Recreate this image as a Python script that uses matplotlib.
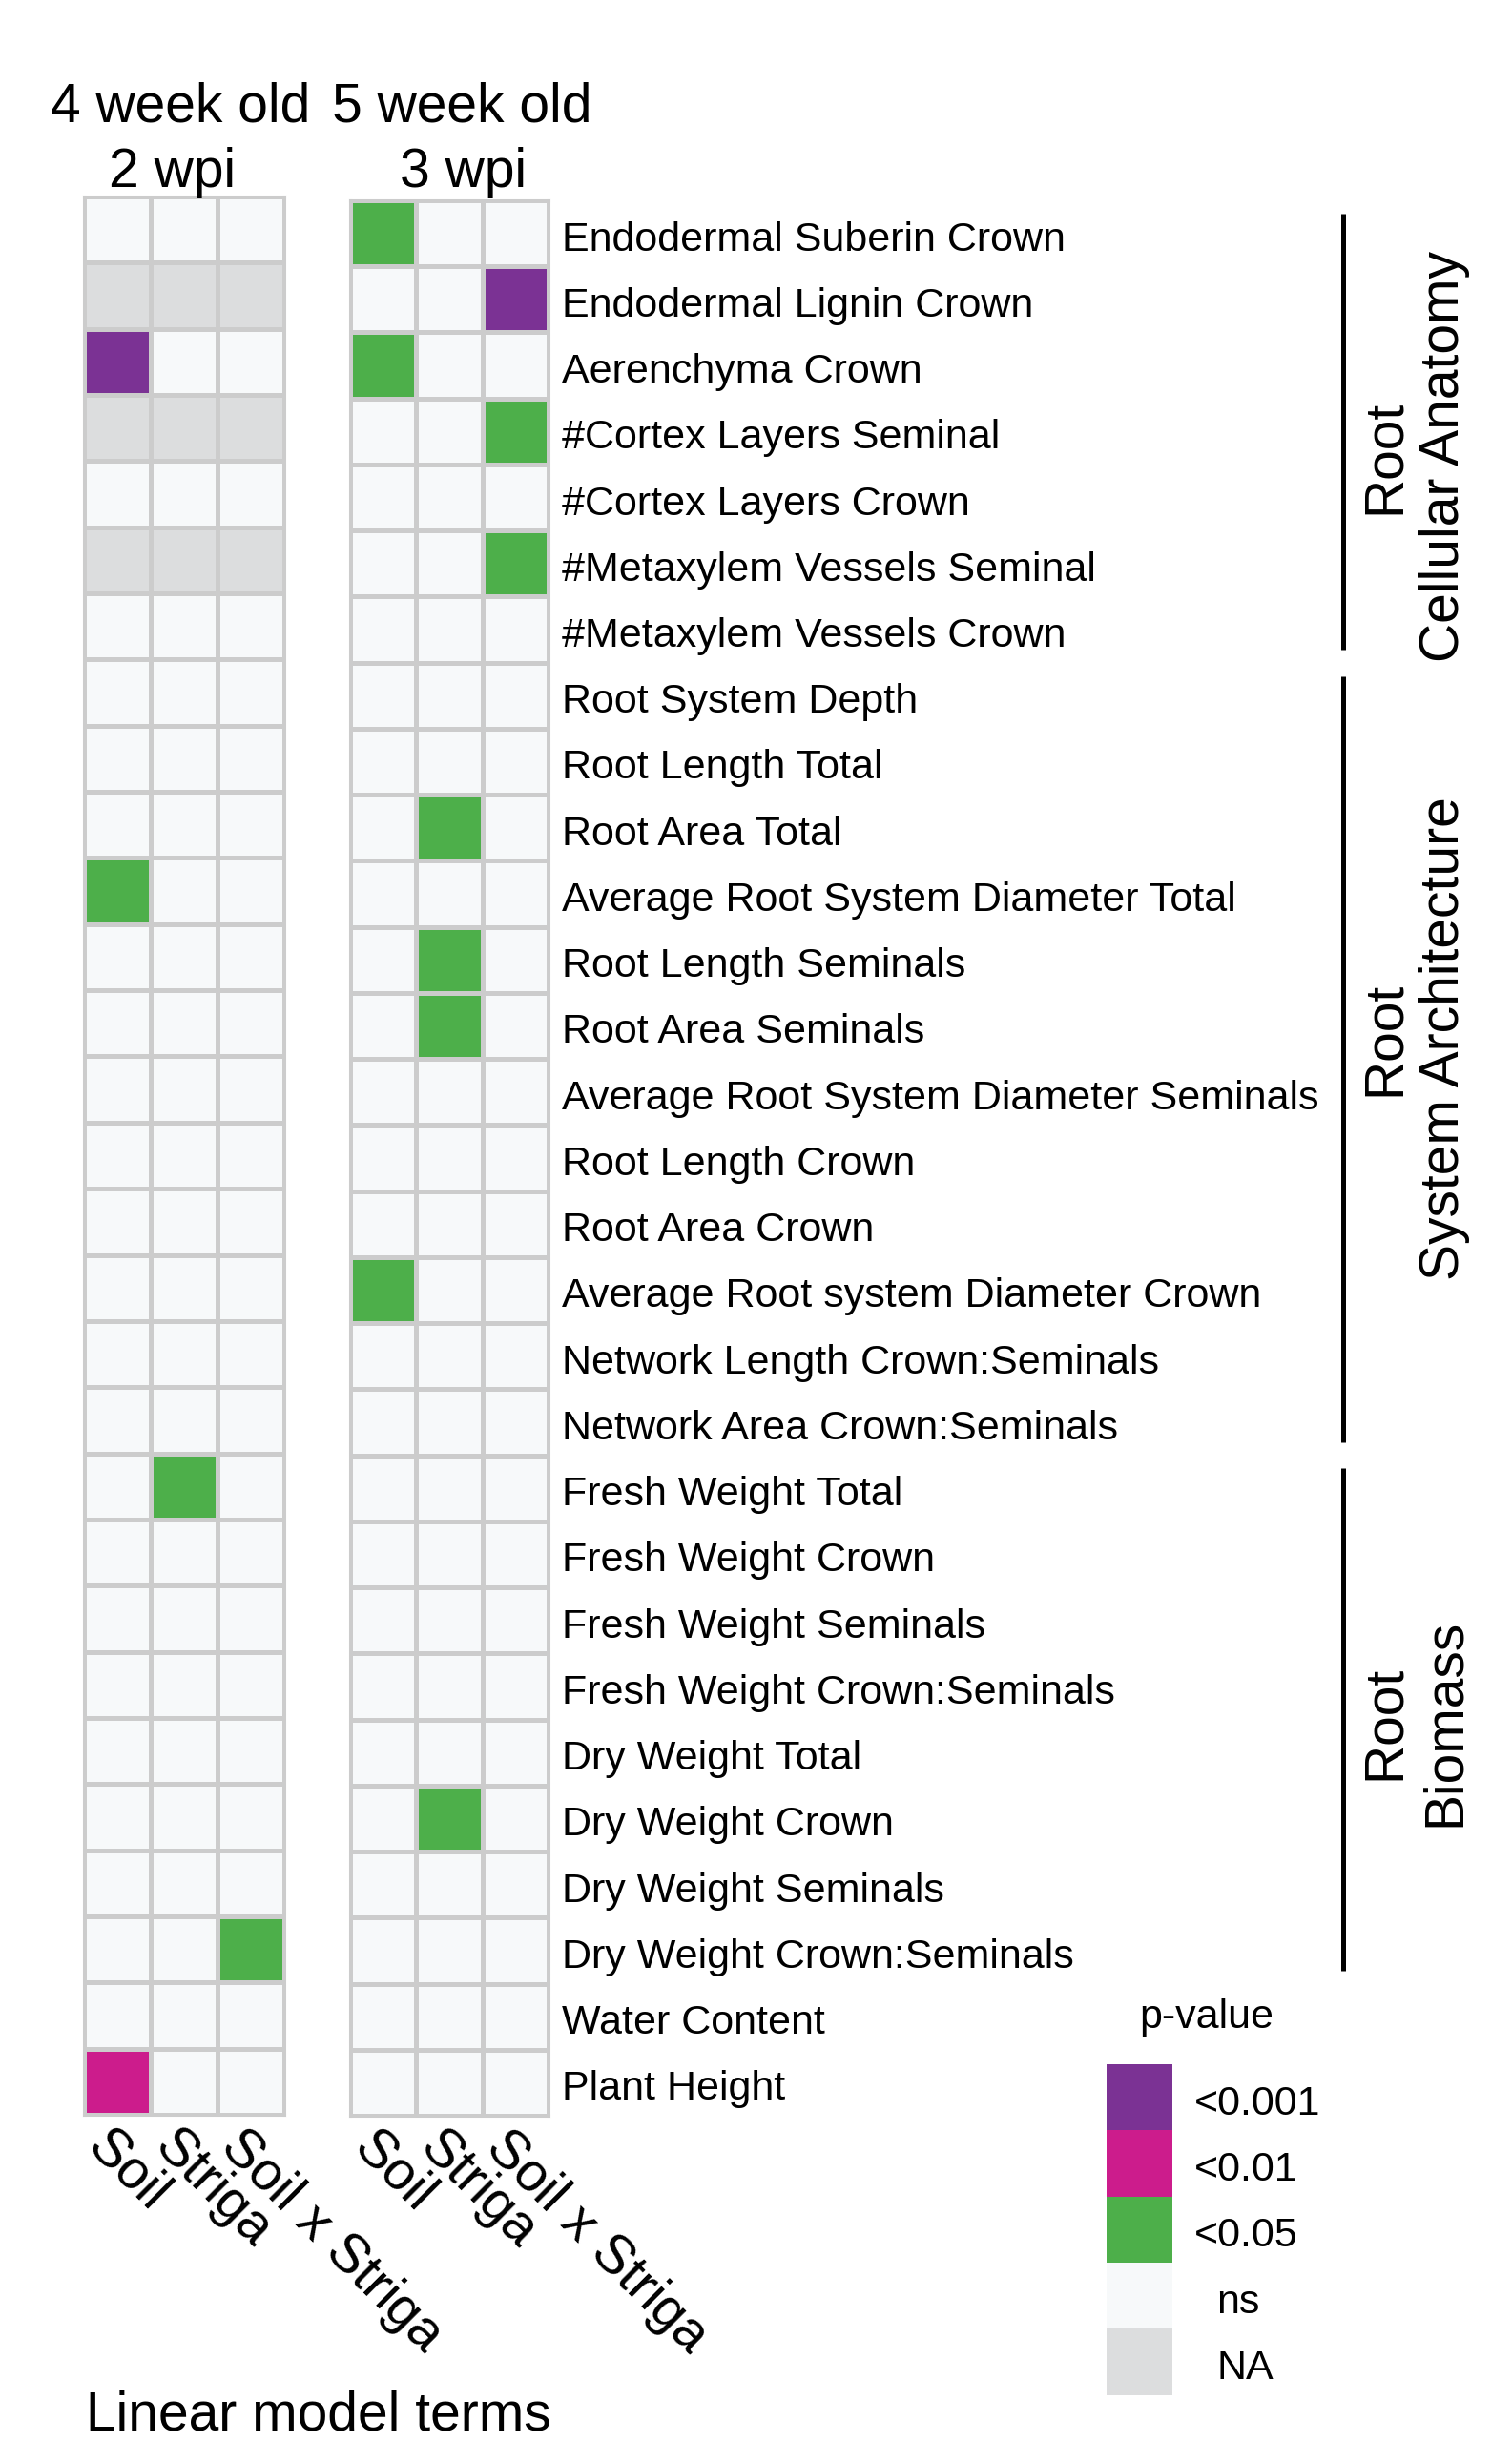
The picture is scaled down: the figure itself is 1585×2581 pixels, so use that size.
import matplotlib.pyplot as plt
import numpy as np
from matplotlib.colors import ListedColormap

plt.rcParams['font.family'] = ['Liberation Sans', 'DejaVu Sans']

traits = [
    'Endodermal Suberin Crown', 'Endodermal Lignin Crown', 'Aerenchyma Crown',
    '#Cortex Layers Seminal', '#Cortex Layers Crown', '#Metaxylem Vessels Seminal',
    '#Metaxylem Vessels Crown', 'Root System Depth', 'Root Length Total',
    'Root Area Total', 'Average Root System Diameter Total', 'Root Length Seminals',
    'Root Area Seminals', 'Average Root System Diameter Seminals', 'Root Length Crown',
    'Root Area Crown', 'Average Root system Diameter Crown', 'Network Length Crown:Seminals',
    'Network Area Crown:Seminals', 'Fresh Weight Total', 'Fresh Weight Crown',
    'Fresh Weight Seminals', 'Fresh Weight Crown:Seminals', 'Dry Weight Total',
    'Dry Weight Crown', 'Dry Weight Seminals', 'Dry Weight Crown:Seminals',
    'Water Content', 'Plant Height',
]
terms = ['Soil', 'Striga', 'Soil x Striga']

levels = ['<0.001', '<0.01', '<0.05', 'ns', 'NA']
level_colors = ['#7b3294', '#cc1c8c', '#4daf4a', '#f7f9fa', '#dcddde']
# P = <0.001, M = <0.01, G = <0.05, . = ns, x = NA
codes = {'P': 0, 'M': 1, 'G': 2, '.': 3, 'x': 4}

wk4 = ['...', 'xxx', 'P..', 'xxx', '...', 'xxx', '...', '...', '...', '...',
       'G..', '...', '...', '...', '...', '...', '...', '...', '...', '.G.',
       '...', '...', '...', '...', '...', '...', '..G', '...', 'M..']
wk5 = ['G..', '..P', 'G..', '..G', '...', '..G', '...', '...', '...', '.G.',
       '...', '.G.', '.G.', '...', '...', '...', 'G..', '...', '...', '...',
       '...', '...', '...', '...', '.G.', '...', '...', '...', '...']

groups = [('Root\nCellular Anatomy', 0, 6),
          ('Root\nSystem Architecture', 7, 18),
          ('Root\nBiomass', 19, 26)]
label_shift = [0.38, -0.31, 0.05]   # nudge of group labels (rows), as in the figure


def to_matrix(rows):
    return np.array([[codes[c] for c in r] for r in rows])


W, H = 1585, 2581
fig = plt.figure(figsize=(W / 100, H / 100), dpi=100)
cmap = ListedColormap(level_colors)

# axes boxes from pixel positions
ax1 = fig.add_axes([88 / W, 1 - 2217 / H, 210 / W, 2011 / H])
ax2 = fig.add_axes([367 / W, 1 - 2218 / H, 208 / W, 2008 / H])

for ax, rows in [(ax1, wk4), (ax2, wk5)]:
    m = to_matrix(rows)
    ax.pcolormesh(np.arange(4), np.arange(len(traits) + 1), m, cmap=cmap,
                  vmin=-0.5, vmax=4.5, edgecolors='#cccccc', linewidth=2.2)
    ax.set_xlim(0, 3)
    ax.set_ylim(len(traits), 0)
    ax.set_xticks([])
    ax.set_yticks([])
    for s in ax.spines.values():
        s.set_color('#cccccc')
        s.set_linewidth(2.2)
    for j, t in enumerate(terms):
        ax.text(j + 0.45, len(traits) + 0.08, t, rotation=-45, rotation_mode='anchor',
                ha='left', va='top', fontsize=41, clip_on=False)

# headers
fig.text(189 / W, 1 - 128 / H, '4 week old', ha='center', va='baseline', fontsize=41)
fig.text(181 / W, 1 - 196 / H, '2 wpi', ha='center', va='baseline', fontsize=41)
fig.text(484 / W, 1 - 128 / H, '5 week old', ha='center', va='baseline', fontsize=41)
fig.text(486 / W, 1 - 196 / H, '3 wpi', ha='center', va='baseline', fontsize=41)

# trait names
for i, t in enumerate(traits):
    ax2.text(3.2, i + 0.6, t, ha='left', va='center', fontsize=31)

# group brackets
for (label, first, last), dy in zip(groups, label_shift):
    y0, y1 = first + 0.2, last + 1 - 0.2
    ax2.plot([15.02, 15.02], [y0, y1], color='black', lw=3.6, clip_on=False,
             solid_capstyle='butt')
    ax2.text(16.1, (first + last + 1) / 2 + dy, label, rotation=90, ha='center',
             va='center', multialignment='center', fontsize=41, clip_on=False)

fig.text(90 / W, 1 - 2548 / H, 'Linear model terms', ha='left', va='baseline',
         fontsize=41)

# legend
lax = fig.add_axes([1160 / W, 1 - 2511 / H, 69 / W, 347 / H])
lax.imshow(np.arange(len(levels)).reshape(-1, 1), cmap=cmap, vmin=-0.5, vmax=4.5,
           aspect='auto')
lax.set_xticks([])
lax.set_yticks([])
for s in lax.spines.values():
    s.set_visible(False)
for k, lab in enumerate(levels):
    x = 0.83 if k < 3 else 1.17
    lax.text(x, k + 0.1, lab, ha='left', va='center', fontsize=31, clip_on=False)
lax.text(1.02, -1.2, 'p-value', ha='center', va='center', fontsize=31, clip_on=False)

fig.savefig('out.png', dpi=100)
